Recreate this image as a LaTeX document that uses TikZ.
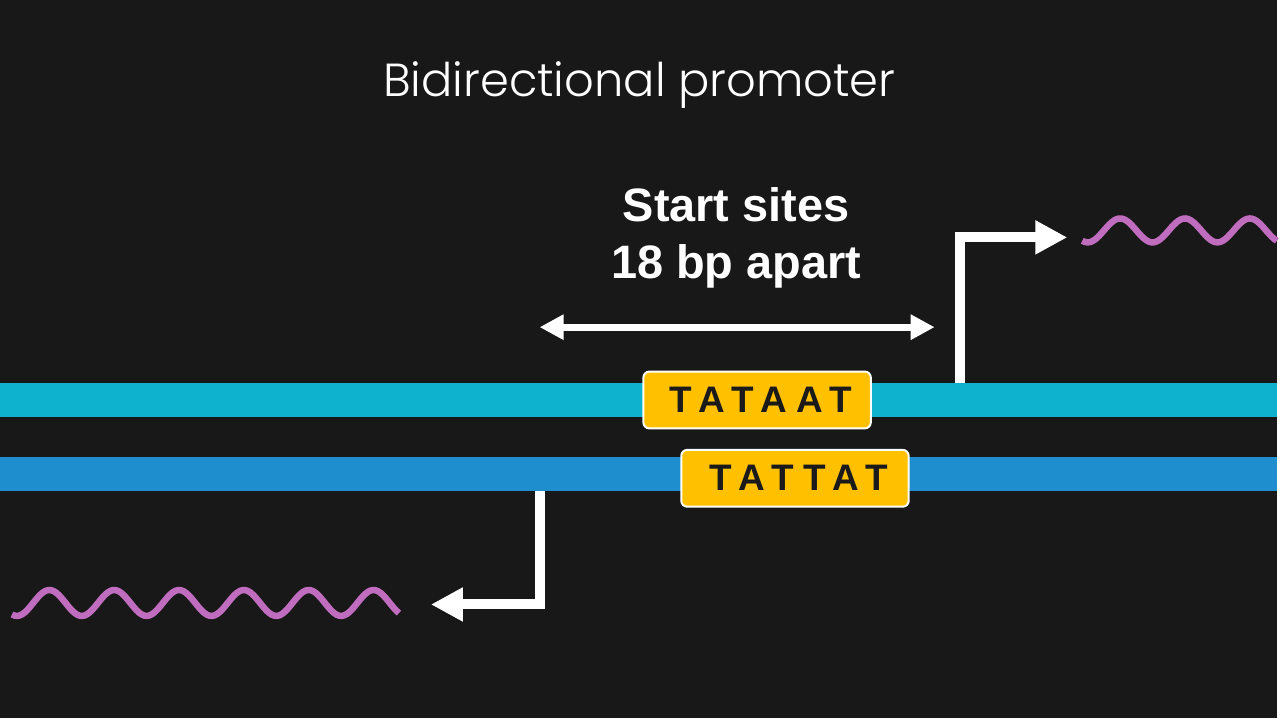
\documentclass[tikz,border=0pt]{standalone}
\usepackage{fontspec}
\setmainfont{Liberation Sans}
\newfontfamily\titlefont{Poppins Light}
\usepackage{xcolor}
\usetikzlibrary{arrows.meta, positioning}

\definecolor{bg}{HTML}{181818}
\definecolor{strandtop}{HTML}{0EB1CE}
\definecolor{strandbot}{HTML}{1F8ECF}
\definecolor{boxgold}{HTML}{FFC000}
\definecolor{rna}{HTML}{C06CBF}
\definecolor{ink}{HTML}{1A1A1A}

\begin{document}
\begin{tikzpicture}[
    x=1pt, y=-1pt,
    strand/.style={rectangle, inner sep=0pt, minimum width=1280pt, minimum height=34pt, anchor=north west},
    seqbox/.style={rectangle, draw=white, line width=2pt, fill=boxgold, rounded corners=6pt, minimum width=228pt, minimum height=57pt, inner sep=0pt, text=ink, font=\fontsize{37}{42}\selectfont\bfseries\addfontfeature{LetterSpace=25}},
    tss/.style={draw=white, line width=10pt, -{Triangle[length=32pt, width=32pt]}},
    span/.style={draw=white, line width=7pt, {Triangle[length=24pt, width=24pt]}-{Triangle[length=24pt, width=24pt]}},
    wave/.style={draw=rna, line width=6.5pt}
]

% Background
\fill[bg] (0,0) rectangle (1280,720);

% Title and label
\node[text=white, font=\titlefont\fontsize{46.5}{56}\selectfont, anchor=base] (title) at (641,97) {Bidirectional promoter};
\node[text=white, font=\fontsize{47}{57}\selectfont\bfseries, align=center] (label) at (738,238.5) {Start sites\\18 bp apart};

% DNA strands
\node[strand, fill=strandtop] (top) at (0,384) {};
\node[strand, fill=strandbot] (bot) at (0,458) {};

% Promoter elements
\node[seqbox] (tataat) at (759,401) {\hspace{0.2em}TATAAT};
\node[seqbox] (tattat) at (797,479.5) {\hspace{0.2em}TATTAT};

% Distance between start sites
\coordinate (spanL) at (541,328);
\coordinate (spanR) at (937,328);
\draw[span] (spanL) -- (spanR);

% Transcription start sites
\coordinate (txtop) at (1070,238);
\coordinate (txbot) at (432,606);
\draw[tss] (top.north -| 962,0) |- (txtop);
\draw[tss] (bot.south -| 541,0) |- (txbot);

% Transcripts
\draw[wave] plot[domain=1085:1280, samples=80, smooth] (\x, {231+12*cos(5.53846*(\x-1090.5))});
\draw[wave] plot[domain=12:400, samples=150, smooth] (\x, {604.5+13*cos(5.53846*(\x-17))});

\end{tikzpicture}
\end{document}
